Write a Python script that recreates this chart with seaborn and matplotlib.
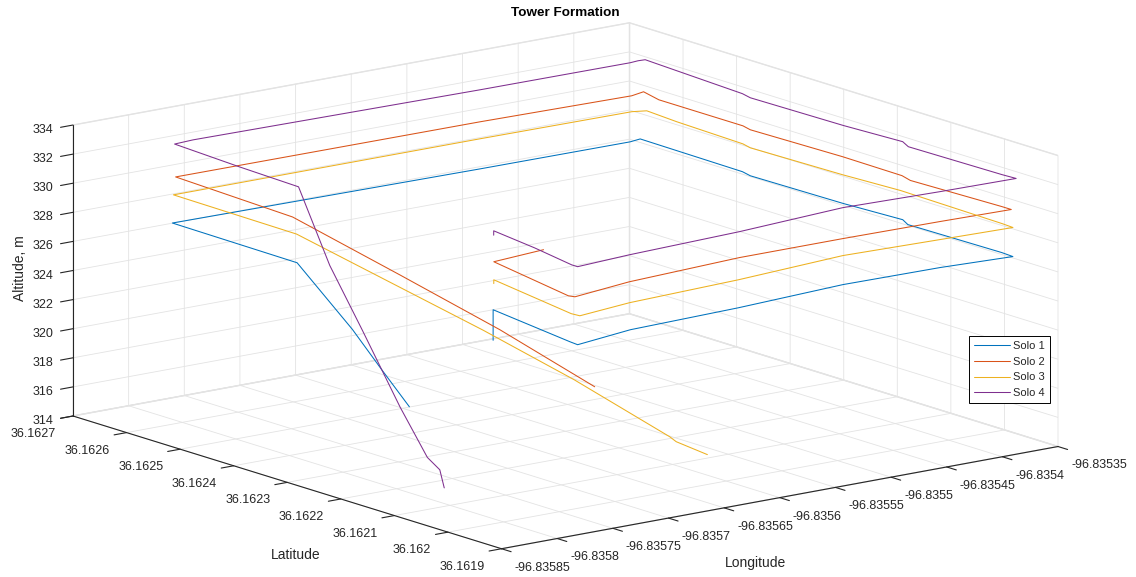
import numpy as np
import matplotlib
matplotlib.use("Agg")
import matplotlib.pyplot as plt
import seaborn as sns
from mpl_toolkits.mplot3d import proj3d
from matplotlib.ticker import FixedLocator, FuncFormatter

# ---------------- data ----------------
series_names = ["Solo 1", "Solo 2", "Solo 3", "Solo 4"]

solo1_lon = [-96.835756, -96.835756, -96.835771, -96.835772, -96.835715, -96.835614, -96.835513,
             -96.835427, -96.835366, -96.835365, -96.835367, -96.835361, -96.835365, -96.835367,
             -96.835364, -96.835362, -96.835373, -96.835507, -96.835779, -96.835781, -96.835728,
             -96.835698, -96.835670]
solo1_lat = [36.162111, 36.162111, 36.161936, 36.161920, 36.161940, 36.161948, 36.161963,
             36.161960, 36.161951, 36.161974, 36.162145, 36.162167, 36.162269, 36.162439,
             36.162460, 36.162655, 36.162651, 36.162653, 36.162662, 36.162425, 36.162432,
             36.162439, 36.162446]
solo1_alt = [324.6, 326.7, 326.7, 326.7, 326.7, 326.7, 326.7,
             326.7, 326.7, 326.7, 326.7, 326.7, 326.7, 326.7,
             326.7, 326.7, 326.7, 326.7, 326.7, 326.7, 321.3,
             318.0, 315.0]

solo2_lon = [-96.835703, -96.835753, -96.835773, -96.835771, -96.835713, -96.835607, -96.835514,
             -96.835428, -96.835366, -96.835366, -96.835370, -96.835366, -96.835365, -96.835368,
             -96.835365, -96.835365, -96.835359, -96.835373, -96.835506, -96.835778, -96.835785,
             -96.835695, -96.835611, -96.835529]
solo2_lat = [36.162127, 36.162116, 36.161935, 36.161927, 36.161946, 36.161961, 36.161961,
             36.161958, 36.161954, 36.161972, 36.162134, 36.162158, 36.162271, 36.162437,
             36.162457, 36.162614, 36.162655, 36.162648, 36.162655, 36.162658, 36.162425,
             36.162411, 36.162400, 36.162393]
solo2_alt = [329.9, 329.9, 329.9, 329.9, 329.9, 329.9, 329.9,
             329.9, 329.9, 329.9, 329.9, 329.9, 329.9, 329.9,
             329.9, 329.9, 329.9, 329.9, 329.9, 329.9, 329.9,
             324.8, 320.0, 315.0]

solo3_lon = [-96.835753, -96.835753, -96.835771, -96.835770, -96.835718, -96.835615, -96.835512,
             -96.835428, -96.835365, -96.835364, -96.835361, -96.835365, -96.835368, -96.835365,
             -96.835362, -96.835359, -96.835369, -96.835504, -96.835779, -96.835781, -96.835685,
             -96.835639, -96.835591, -96.835591, -96.835589]
solo3_lat = [36.162116, 36.162116, 36.161934, 36.161920, 36.161935, 36.161946, 36.161965,
             36.161958, 36.161953, 36.161975, 36.162171, 36.162271, 36.162437, 36.162457,
             36.162587, 36.162649, 36.162656, 36.162659, 36.162660, 36.162426, 36.162277,
             36.162203, 36.162124, 36.162112, 36.162058]
solo3_alt = [328.4, 328.66, 328.66, 328.66, 328.66, 328.66, 328.66,
             328.66, 328.66, 328.66, 328.66, 328.66, 328.66, 328.66,
             328.66, 328.66, 328.66, 328.66, 328.66, 328.66, 322.4,
             319.2, 315.5, 315.3, 315.0]

solo4_lon = [-96.835755, -96.835755, -96.835763, -96.835773, -96.835773, -96.835722, -96.835618,
             -96.835516, -96.835432, -96.835365, -96.835366, -96.835368, -96.835362, -96.835366,
             -96.835368, -96.835365, -96.835358, -96.835364, -96.835372, -96.835506, -96.835759,
             -96.835777, -96.835782, -96.835785, -96.835794, -96.835798, -96.835803, -96.835805,
             -96.835802, -96.835798]
solo4_lat = [36.162112, 36.162112, 36.162019, 36.161929, 36.161918, 36.161927, 36.161938,
             36.161957, 36.161950, 36.161947, 36.161971, 36.162142, 36.162165, 36.162267,
             36.162437, 36.162458, 36.162654, 36.162655, 36.162653, 36.162655, 36.162665,
             36.162662, 36.162530, 36.162414, 36.162337, 36.162268, 36.162187, 36.162132,
             36.162115, 36.162115]
solo4_alt = [331.8, 332.1, 332.1, 332.1, 332.1, 332.1, 332.1,
             332.1, 332.1, 332.1, 332.1, 332.1, 332.1, 332.1,
             332.1, 332.1, 332.1, 332.1, 332.1, 332.1, 332.1,
             332.1, 332.1, 332.1, 327.7, 324.1, 319.8, 317.0,
             316.3, 315.0]

lon_ticks = [-96.83585, -96.8358, -96.83575, -96.8357, -96.83565, -96.8356,
             -96.83555, -96.8355, -96.83545, -96.8354, -96.83535]
lat_ticks = [36.1619, 36.162, 36.1621, 36.1622, 36.1623, 36.1624, 36.1625, 36.1626, 36.1627]
alt_ticks = [314, 316, 318, 320, 322, 324, 326, 328, 330, 332, 334]

series_colors = ["#0072BD", "#D95319", "#EDB120", "#7E2F8E"]

# ---------------- style ----------------
sns.set_theme(style="white", rc={
    "grid.color": "#e3e3e3",
    "grid.linewidth": 0.6,
    "xtick.color": "#262626",
    "ytick.color": "#262626",
    "xtick.major.width": 0.8,
    "ytick.major.width": 0.8,
})
plt.rcParams["font.family"] = ["Liberation Sans", "DejaVu Sans"]
palette = sns.color_palette(series_colors)

W, H = 1136, 577
fig = plt.figure(figsize=(W / 100, H / 100), dpi=100)
fig.patch.set_facecolor("white")
ax = fig.add_axes([0.1, 0.1, 0.8, 0.8], projection="3d", proj_type="ortho")
ax.view_init(elev=13.8, azim=-127.6)
ax.set_box_aspect((1, 1, 0.4266))

data = [
    (solo1_lon, solo1_lat, solo1_alt),
    (solo2_lon, solo2_lat, solo2_alt),
    (solo3_lon, solo3_lat, solo3_alt),
    (solo4_lon, solo4_lat, solo4_alt),
]
for (lo, la, al), name, col in zip(data, series_names, palette):
    ax.plot(lo, la, al, color=col, lw=0.75, label=name)

ax.set_xlim(lon_ticks[0], lon_ticks[-1])
ax.set_ylim(lat_ticks[0], lat_ticks[-1])
ax.set_zlim(alt_ticks[0], alt_ticks[-1])
fmt = FuncFormatter(lambda v, p: f"{v:.10g}")
for axis, ticks in ((ax.xaxis, lon_ticks), (ax.yaxis, lat_ticks), (ax.zaxis, alt_ticks)):
    axis.set_major_locator(FixedLocator(ticks))
    axis.set_major_formatter(fmt)
    axis.set_pane_color((1, 1, 1, 1))
    axis.pane.set_edgecolor("#e3e3e3")
    axis.line.set_color("#262626")
    axis.line.set_linewidth(0.8)
    axis._axinfo["tick"]["inward_factor"] = 0.28
    axis._axinfo["tick"]["outward_factor"] = 0.0
ax.tick_params(axis="both", labelsize=9, colors="#262626")
ax.tick_params(axis="z", labelsize=9, colors="#262626")
ax.set_xlabel("")
ax.set_ylabel("")
ax.set_zlabel("")
ax.grid(True)
for t in ax.xaxis.get_major_ticks():
    t.label1.set_horizontalalignment("left")
for t in ax.yaxis.get_major_ticks():
    t.label1.set_horizontalalignment("right")

# ---------------- fit the projected box onto the reference layout ----------------
xl, yl, zl = lon_ticks[0], lat_ticks[-1], alt_ticks[0]   # left corner
xr, yr, zr = lon_ticks[-1], lat_ticks[0], alt_ticks[0]   # right corner
target_L = np.array([73.0, H - 416.0])
target_R = np.array([1058.0, H - 447.0])


def corner_px(x, y, z):
    xs, ys, _ = proj3d.proj_transform(x, y, z, ax.get_proj())
    return np.array(ax.transData.transform((xs, ys)))


for _ in range(3):
    fig.canvas.draw()
    Lp = corner_px(xl, yl, zl)
    Rp = corner_px(xr, yr, zr)
    pos = ax.get_position()
    ox, oy, size = pos.x0 * W, pos.y0 * H, pos.width * W
    k = (target_R[0] - target_L[0]) / (Rp[0] - Lp[0])
    new_o = target_L - k * (Lp - np.array([ox, oy]))
    new_s = k * size
    ax.set_position([new_o[0] / W, new_o[1] / H, new_s / W, new_s / H])

# ---------------- text ----------------
fig.text(565 / W, 1 - 13 / H, "Tower Formation", ha="center", va="center",
         fontsize=9.7, fontweight="bold", color="black")
fig.text(20 / W, 1 - 268 / H, "Altitude, m", rotation=90, ha="center", va="center",
         fontsize=10, color="#262626")
fig.text(296 / W, 1 - 555 / H, "Latitude", ha="center", va="center",
         fontsize=10, color="#262626")
fig.text(755 / W, 1 - 563 / H, "Longitude", ha="center", va="center",
         fontsize=10, color="#262626")

handles, labels = ax.get_legend_handles_labels()
leg = fig.legend(handles, labels, loc="lower right",
                 bbox_to_anchor=(1050 / W, 1 - 403 / H), bbox_transform=fig.transFigure,
                 fontsize=8, frameon=True, fancybox=False, framealpha=1,
                 edgecolor="black", borderpad=0.45, labelspacing=0.5,
                 handlelength=3.2, handletextpad=0.3, borderaxespad=0)
leg.get_frame().set_linewidth(0.7)

fig.savefig("out.png", dpi=100, facecolor="white")
